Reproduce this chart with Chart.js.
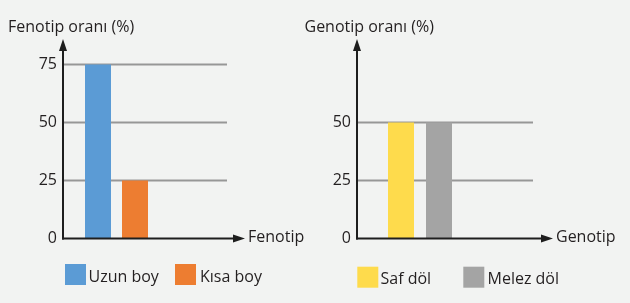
<!DOCTYPE html>
<html><head><meta charset="utf-8">
<script src="https://cdn.jsdelivr.net/npm/chart.js@4/dist/chart.umd.min.js"></script>
<style>
html,body{margin:0;padding:0;background:#f2f3f2;width:630px;height:303px;overflow:hidden}
canvas{position:absolute;top:0}
#c1{left:0}
#c2{left:300px}
</style></head><body>
<canvas id="c1" width="315" height="303"></canvas>
<canvas id="c2" width="330" height="303"></canvas>
<script>
// ---- data ----
const fenotipCategories = ['Uzun boy', 'Kısa boy'];
const fenotipValues = [75, 25];
const fenotipTicks = [0, 25, 50, 75];
const fenotipYTitle = 'Fenotip oranı (%)';
const fenotipXTitle = 'Fenotip';

const genotipCategories = ['Saf döl', 'Melez döl'];
const genotipValues = [50, 50];
const genotipTicks = [0, 25, 50];
const genotipYTitle = 'Genotip oranı (%)';
const genotipXTitle = 'Genotip';

// ---- style ----
const FONT_FAMILY = '"Open Sans", "Noto Sans", sans-serif';
const FONT = '16px ' + FONT_FAMILY;
const INK = '#231f20';
const AXIS = '#1e1e1e';
const GRID = '#979797';

const decor = {
  id: 'decor',
  beforeDatasetsDraw(chart, args, o) {
    const {ctx, chartArea: a, scales: {y}} = chart;
    ctx.save();
    ctx.strokeStyle = GRID;
    ctx.lineWidth = 2;
    y.ticks.forEach(t => {
      if (t.value === 0) return;
      const py = y.getPixelForValue(t.value);
      ctx.beginPath();
      ctx.moveTo(a.left, py);
      ctx.lineTo(a.left + o.gridLen, py);
      ctx.stroke();
    });
    ctx.restore();
  },
  afterDatasetsDraw(chart, args, o) {
    const {ctx, chartArea: a, scales: {y}} = chart;
    const x0 = a.left, y0 = y.getPixelForValue(0);
    ctx.save();
    ctx.strokeStyle = AXIS; ctx.fillStyle = AXIS; ctx.lineWidth = 2;
    // y axis with arrow
    const yTip = a.top;
    ctx.beginPath(); ctx.moveTo(x0, y0 + 1); ctx.lineTo(x0, yTip + 8); ctx.stroke();
    ctx.beginPath(); ctx.moveTo(x0, yTip); ctx.lineTo(x0 - 4, yTip + 12); ctx.lineTo(x0 + 4, yTip + 12); ctx.closePath(); ctx.fill();
    // x axis with arrow
    const xTip = x0 + o.xLen;
    ctx.beginPath(); ctx.moveTo(x0 - 1, y0); ctx.lineTo(xTip - 8, y0); ctx.stroke();
    ctx.beginPath(); ctx.moveTo(xTip, y0); ctx.lineTo(xTip - 12, y0 - 4); ctx.lineTo(xTip - 12, y0 + 4); ctx.closePath(); ctx.fill();
    // titles
    ctx.fillStyle = INK; ctx.font = FONT;
    ctx.textAlign = 'left'; ctx.textBaseline = 'alphabetic';
    ctx.fillText(o.yTitle, o.yTitleX, o.yTitleY);
    ctx.textBaseline = 'middle';
    ctx.fillText(o.xTitle, xTip + 3, y0 - 1);
    // legend
    ctx.textBaseline = 'alphabetic';
    chart.data.datasets.forEach((ds, i) => {
      ctx.fillStyle = ds.backgroundColor;
      ctx.fillRect(o.legendBoxX[i], o.legendY, 21, 21);
      ctx.fillStyle = INK;
      ctx.fillText(ds.label, o.legendTextX[i], o.legendY + 17.5);
    });
    ctx.restore();
  }
};

function makeChart(id, cats, vals, ticks, colors, axisW, padRight, catPct, barPct, deco) {
  return new Chart(document.getElementById(id), {
    type: 'bar',
    data: {
      labels: [deco.xTitle],
      datasets: cats.map((c, i) => ({
        label: c, data: [vals[i]], backgroundColor: colors[i], borderWidth: 0,
        categoryPercentage: catPct, barPercentage: barPct
      }))
    },
    options: {
      responsive: false, animation: false, devicePixelRatio: 1,
      layout: {padding: {left: 0, right: padRight, top: 39, bottom: 64.5}},
      plugins: {legend: {display: false}, tooltip: {enabled: false}, decor: deco},
      scales: {
        x: {display: false},
        y: {
          min: 0, max: 86,
          afterBuildTicks: s => { s.ticks = ticks.map(v => ({value: v})); },
          afterFit: s => { s.width = axisW; },
          grid: {display: false, drawTicks: false},
          border: {display: false},
          ticks: {padding: 6, color: INK, font: {family: FONT_FAMILY, size: 16}, callback: v => String(v)}
        }
      }
    },
    plugins: [decor]
  });
}

makeChart('c1', fenotipCategories, fenotipValues, fenotipTicks, ['#5b9bd5', '#ed7d31'],
  63, 145, 74 / 107, 26 / 37,
  {gridLen: 164, xLen: 182, yTitle: fenotipYTitle, xTitle: fenotipXTitle, yTitleX: 8, yTitleY: 31.5,
   legendBoxX: [65, 175], legendTextX: [88.5, 200], legendY: 264});

makeChart('c2', genotipCategories, genotipValues, genotipTicks, ['#fedb4c', '#a4a4a4'],
  57, 147, 76 / 126, 26 / 38,
  {gridLen: 176, xLen: 196, yTitle: genotipYTitle, xTitle: genotipXTitle, yTitleX: 4.5, yTitleY: 31.5,
   legendBoxX: [57.3, 163.3], legendTextX: [80.5, 187.5], legendY: 266.7});
</script>
</body></html>
